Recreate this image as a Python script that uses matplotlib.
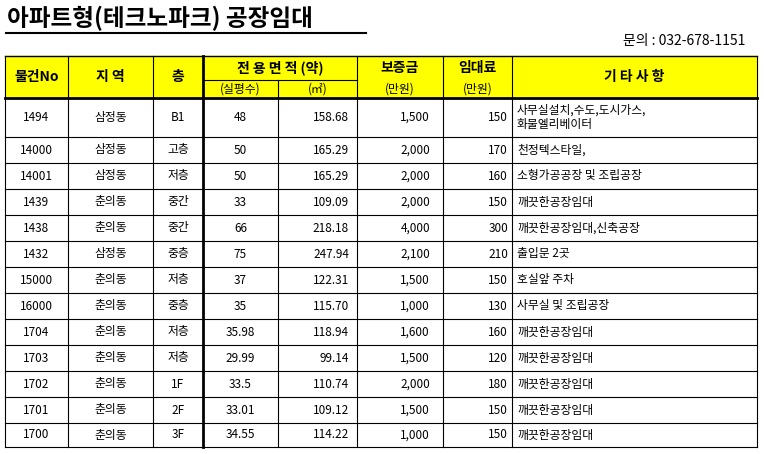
import matplotlib
matplotlib.use("Agg")
import matplotlib.pyplot as plt
plt.rcParams['font.family'] = ['Noto Sans CJK KR', 'DejaVu Sans']

ids = ["1494","14000","14001","1439","1438","1432","15000","16000","1704","1703","1702","1701","1700"]
regions = ["삼정동","삼정동","삼정동","춘의동","춘의동","삼정동","춘의동","춘의동","춘의동","춘의동","춘의동","춘의동","춘의동"]
floors = ["B1","고층","저층","중간","중간","중층","저층","중층","저층","저층","1F","2F","3F"]
pyeong = ["48","50","50","33","66","75","37","35","35.98","29.99","33.5","33.01","34.55"]
sqm = ["158.68","165.29","165.29","109.09","218.18","247.94","122.31","115.70","118.94","99.14","110.74","109.12","114.22"]
deposit = ["1,500","2,000","2,000","2,000","4,000","2,100","1,500","1,000","1,600","1,500","2,000","1,500","1,000"]
rent = ["150","170","160","150","300","210","150","130","160","120","180","150","150"]
notes = ["사무실설치,수도,도시가스,\n화물엘리베이터","천정텍스타일,","소형가공공장 및 조립공장","깨끗한공장임대","깨끗한공장임대,신축공장",
         "출입문 2곳","호실앞 주차","사무실 및 조립공장","깨끗한공장임대","깨끗한공장임대","깨끗한공장임대","깨끗한공장임대","깨끗한공장임대"]

W, H = 764, 454
fig = plt.figure(figsize=(W/100, H/100), dpi=100)
ax = fig.add_axes([0, 0, 1, 1])
ax.set_xlim(0, W); ax.set_ylim(H, 0); ax.axis('off')

xs = [5, 68, 153, 203, 278, 357, 443, 512, 757]
rows = [98, 137] + [137 + 26*(i) for i in range(1, 13)]
rows[-1] = 447
ytop, ymid = 56, 80

ax.add_patch(plt.Rectangle((xs[0], ytop), xs[-1]-xs[0], rows[0]-ytop, color='#ffff00', zorder=0))

ax.text(7, 18, "아파트형(테크노파크) 공장임대", fontsize=17, fontweight='bold', va='center', ha='left')
ax.plot([6, 366], [33, 33], color='black', lw=1.5)
ax.text(745, 41, "문의 : 032-678-1151", fontsize=10, va='center', ha='right')

lc = 'black'
ax.plot([xs[0], xs[-1]], [ytop, ytop], color=lc, lw=1)
ax.plot([xs[3], xs[5]], [ymid, ymid], color=lc, lw=0.8)
ax.plot([xs[0], xs[-1]], [rows[0], rows[0]], color=lc, lw=2)
for y in rows[1:]:
    ax.plot([xs[0], xs[-1]], [y, y], color=lc, lw=0.8)
for i, x in enumerate(xs):
    lw = 2 if i == 3 else 0.8
    if i == 4:
        ax.plot([x, x], [ymid, rows[-1]], color=lc, lw=lw)
    else:
        ax.plot([x, x], [ytop, rows[-1]], color=lc, lw=lw)

hc = (ytop + rows[0]) / 2
hf = dict(fontsize=10, fontweight='bold', va='center', ha='center')
ax.text((xs[0]+xs[1])/2, hc, "물건No", **hf)
ax.text((xs[1]+xs[2])/2, hc, "지 역", **hf)
ax.text((xs[2]+xs[3])/2, hc, "층", **hf)
ax.text((xs[3]+xs[5])/2, (ytop+ymid)/2, "전 용 면 적 (약)", **hf)
ax.text((xs[5]+xs[6])/2, (ytop+ymid)/2, "보증금", **hf)
ax.text((xs[6]+xs[7])/2, (ytop+ymid)/2, "임대료", **hf)
ax.text((xs[7]+xs[8])/2, hc, "기 타 사 항", **hf)
sf = dict(fontsize=8.5, va='center', ha='center')
sy = (ymid + rows[0]) / 2
ax.text((xs[3]+xs[4])/2, sy, "(실평수)", **sf)
ax.text((xs[4]+xs[5])/2, sy, "(㎡)", **sf)
ax.text((xs[5]+xs[6])/2, sy, "(만원)", **sf)
ax.text((xs[6]+xs[7])/2, sy, "(만원)", **sf)

bf = dict(fontsize=8.5, va='center')
for i in range(len(ids)):
    yc = (rows[i] + rows[i+1]) / 2
    ax.text((xs[0]+xs[1])/2, yc, ids[i], ha='center', **bf)
    ax.text((xs[1]+xs[2])/2, yc, regions[i], ha='center', **bf)
    ax.text((xs[2]+xs[3])/2, yc, floors[i], ha='center', **bf)
    ax.text((xs[3]+xs[4])/2, yc, pyeong[i], ha='center', **bf)
    ax.text(xs[5]-8, yc, sqm[i], ha='right', **bf)
    ax.text(xs[6]-13, yc, deposit[i], ha='right', **bf)
    ax.text(xs[7]-4, yc, rent[i], ha='right', **bf)
    ax.text(xs[7]+5, yc, notes[i], ha='left', linespacing=1.1, **bf)

fig.savefig("out.png", dpi=100)
